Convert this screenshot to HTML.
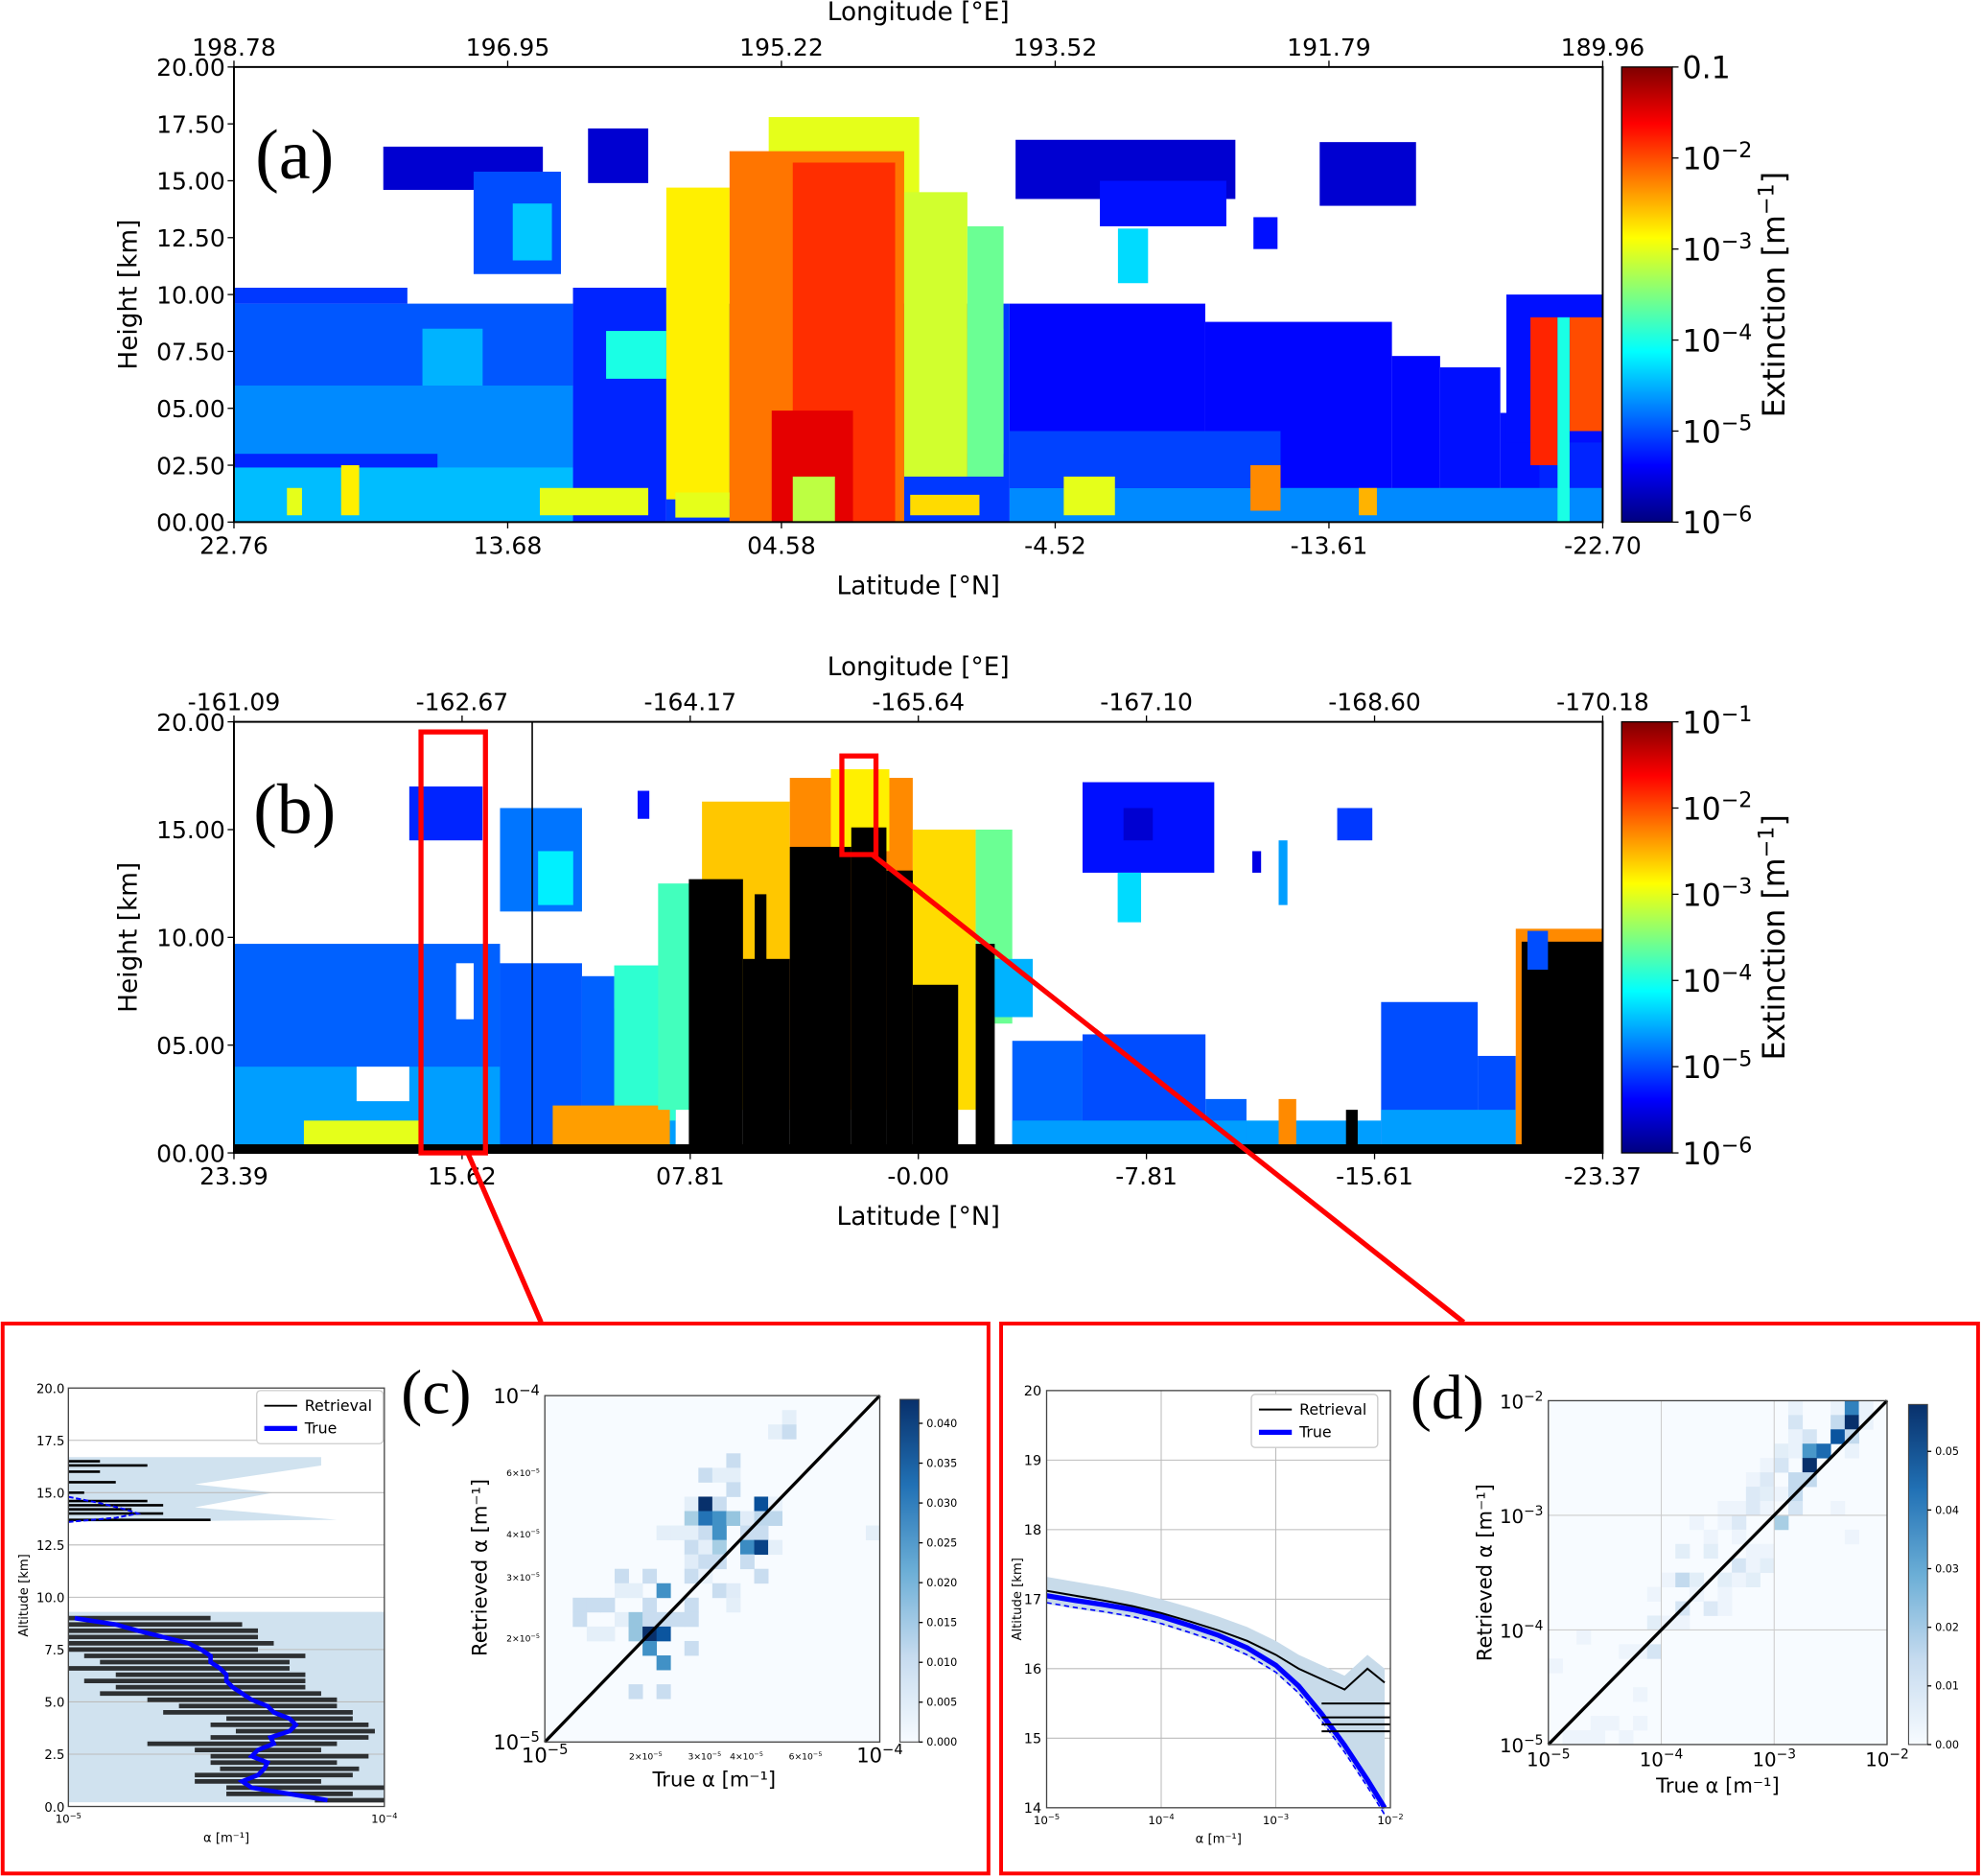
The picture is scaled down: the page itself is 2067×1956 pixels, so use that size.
<!DOCTYPE html>
<html><head><meta charset="utf-8"><style>
html,body{margin:0;padding:0;background:#fff}
svg{display:block}
text{font-family:"DejaVu Sans","Liberation Sans",sans-serif;fill:#000}
.serif{font-family:"Liberation Serif","DejaVu Serif",serif}
</style></head><body>
<svg id="fig" width="2067" height="1956" viewBox="0 0 1568 1484" xmlns="http://www.w3.org/2000/svg">
<defs>
<linearGradient id="jetg" x1="0" y1="1" x2="0" y2="0">
<stop offset="0" stop-color="#00007f"/><stop offset="0.125" stop-color="#0000ff"/><stop offset="0.375" stop-color="#00ffff"/><stop offset="0.5" stop-color="#7fff7f"/><stop offset="0.625" stop-color="#ffff00"/><stop offset="0.875" stop-color="#ff0000"/><stop offset="1" stop-color="#7f0000"/>
</linearGradient>
<linearGradient id="bluesg" x1="0" y1="1" x2="0" y2="0">
<stop offset="0" stop-color="#f7fbff"/><stop offset="0.25" stop-color="#c6dbef"/><stop offset="0.5" stop-color="#6baed6"/><stop offset="0.75" stop-color="#2171b5"/><stop offset="1" stop-color="#08306b"/>
</linearGradient>
</defs>
<g id="layer-a"></g>
<g id="layer-b"></g>
<g id="layer-c"></g>
<g id="layer-d"></g>
</svg>
<script>
// ---------- data ----------
const latTicksA=["22.76","13.68","04.58","-4.52","-13.61","-22.70"];
const lonTicksA=["198.78","196.95","195.22","193.52","191.79","189.96"];
const latTicksB=["23.39","15.62","07.81","-0.00","-7.81","-15.61","-23.37"];
const lonTicksB=["-161.09","-162.67","-164.17","-165.64","-167.10","-168.60","-170.18"];
const hTicksA=["00.00","02.50","05.00","07.50","10.00","12.50","15.00","17.50","20.00"];
const hTicksB=["00.00","05.00","10.00","15.00","20.00"];
// cloud regions: [lat0, lat1, h0 km, h1 km, log10 extinction] (null = attenuated/black, "w" = clear)
const cloudA=[
[22.76,11.5,0,9.6,-4.95],[22.76,17,9.6,10.3,-5.1],[22.76,11.5,0,6,-4.7],[22.76,11.5,0,2.4,-4.45],[22.76,16,2.4,3,-5.2],[16.5,14.5,6,8.5,-4.5],
[11.5,8.4,0,10.3,-5.2],[8.4,-3,0,9.6,-5.1],[-3,-9.5,0,9.6,-5.35],[-9.5,-15.7,0,8.8,-5.35],[-15.7,-17.3,0,7.3,-5.35],[-17.3,-19.3,0,6.8,-5.3],
[-19.3,-20.6,0,4.8,-5.3],[-20.6,-22.7,0,4.8,-5.2],[-3,-22.7,0,1.5,-4.7],[-3,-12,1.5,4,-5.05],
[-19.5,-22.7,3.5,10,-5.3],[-20.3,-21.2,2.5,9,-1.8],[-21.6,-22.7,4,9,-2.0],[-21.2,-21.6,0,9,-4.0],
[10.4,8.4,6.3,8.4,-4.0],[-1.6,-2.8,3,8.5,-3.9],
[8.4,6.3,1,14.7,-2.8],[5,0,13,17.8,-3.0],[6.3,0.5,0,16.3,-2.2],[4.2,0.8,0,15.8,-1.85],[0.5,-1.6,2,14.5,-3.1],[-1.6,-2.8,2,13,-3.6],
[4.9,2.2,0,4.9,-1.5],[4.2,2.8,0,2,-3.2],
[17.8,12.5,14.6,16.5,-5.6],[14.8,11.9,10.9,15.4,-5.0],[13.5,12.2,11.5,14,-4.4],[11,9,14.9,17.3,-5.6],
[-3.2,-10.5,14.2,16.8,-5.6],[-6,-10.2,13,15,-5.3],[-6.6,-7.6,10.5,12.9,-4.3],[-11.1,-11.9,12,13.4,-5.3],[-13.3,-16.5,13.9,16.7,-5.6],
[12.6,9.0,0.3,1.5,-3.0],[8.1,6.3,0.2,1.3,-3.0],[0.3,-2.0,0.3,1.2,-2.7],[-4.8,-6.5,0.3,2,-3.0],[-11,-12,0.5,2.5,-2.3],[-14.6,-15.2,0.3,1.5,-2.5],[19.2,18.6,0.3,2.5,-2.8],[21,20.5,0.3,1.5,-3]
];
const cloudB=[
[23.39,14.3,0,9.7,-4.9],[23.39,14.3,0,4,-4.6],[14.3,11.5,0,8.8,-4.95],[11.5,10.4,0,8.2,-4.9],[10.4,8.3,0,6.7,-4.6],
[19.2,17.4,2.4,4,"w"],[15.8,15.2,6.2,8.8,"w"],
[10.4,8.3,1.5,8.7,-3.9],[12.5,8.5,0.3,2.2,-2.4],[21,17,0.3,1.5,-3.0],
[8.9,7.4,2,12.5,-3.8],[7.4,4.4,2,16.3,-2.6],[4.4,0.2,2,17.4,-2.3],[3,1,14,17.8,-2.8],[0.2,-1.95,2,15,-2.7],[-1.95,-3.2,6,15,-3.6],
[7.85,6.0,0,12.7,null],[6,4.4,0,9,null],[5.6,5.2,0,12,null],[4.4,2.3,0,14.2,null],[2.3,1.1,0,15.1,null],[1.1,0.2,0,13.1,null],[0.2,-1.35,0,7.8,null],[-1.95,-2.6,0,9.7,null],
[17.4,14.9,14.5,17,-5.2],[14.3,11.5,11.2,16,-4.8],[13,11.8,11.5,14,-4.2],[9.6,9.2,15.5,16.8,-5.3],
[-5.6,-10.1,13,17.2,-5.3],[-7.0,-8.0,14.5,16,-5.6],[-6.8,-7.6,10.7,13,-4.3],[-11.4,-11.7,13,14,-5.5],[-12.3,-12.6,11.5,14.5,-4.6],[-14.3,-15.5,14.5,16,-5.1],
[-2.6,-3.9,6.3,9,-4.5],[-3.2,-5.6,0,5.2,-4.9],[-5.6,-9.8,0,5.5,-5.0],[-9.8,-11.2,0,2.5,-4.9],[-3.2,-11.2,0,1.5,-4.6],
[-11.2,-15.8,0,1.5,-4.6],[-12.3,-12.9,0,2.5,-2.3],[-14.6,-15.0,0,2,null],
[-15.8,-19.1,0,7,-5.0],[-19.1,-20.4,0,4.5,-5.0],[-15.8,-20.4,0,2,-4.6],
[-20.4,-23.37,0,10.4,-2.3],[-20.6,-23.37,0,9.8,null],[-20.8,-21.5,8.5,10.3,-5.0],
[23.39,-23.37,0,0.4,null]
];
// panel c profile
const cAlt=[0.3,0.6,0.9,1.2,1.5,1.8,2.1,2.4,2.7,3.0,3.3,3.6,3.9,4.2,4.5,4.8,5.1,5.4,5.7,6.0,6.3,6.6,6.9,7.2,7.5,7.8,8.1,8.4,8.7,9.0];
const cRet=[-4.1,-4.3,-4.25,-4.4,-4.35,-4.3,-4.35,-4.3,-4.4,-4.45,-4.3,-4.25,-4.3,-4.3,-4.4,-4.4,-4.45,-4.55,-4.55,-4.6,-4.55,-4.65,-4.6,-4.6,-4.7,-4.7,-4.7,-4.75,-4.75,-4.85];
const cErr=[0.12,0.2,0.25,0.2,0.25,0.22,0.2,0.25,0.2,0.3,0.25,0.22,0.25,0.2,0.3,0.25,0.3,0.35,0.3,0.35,0.3,0.35,0.3,0.35,0.3,0.35,0.3,0.35,0.3,0.3];
const cTrue=[-4.18,-4.3,-4.42,-4.45,-4.4,-4.38,-4.37,-4.42,-4.4,-4.35,-4.36,-4.3,-4.28,-4.3,-4.35,-4.37,-4.42,-4.45,-4.48,-4.5,-4.5,-4.52,-4.55,-4.55,-4.58,-4.62,-4.7,-4.78,-4.85,-4.98];
const cAltUp=[13.7,14.0,14.2,14.4,14.6,15.0,15.5,16.0,16.3,16.5];
const cRetUp=[-4.55,-4.7,-4.8,-4.7,-4.75,-4.95,-4.85,-4.9,-4.75,-4.9];
const cTrueUp=[-5.0,-4.85,-4.78,-4.82,-4.9,-5.0];
const cAltTrueUp=[13.6,13.8,14.0,14.2,14.5,14.8];
// panel c histogram: bin indices (24x24 over 1e-5..1e-4) and density
const cBx=[17,16,17,13,11,12,13,13,10,11,12,15,16,10,11,12,13,14,15,16,8,9,10,11,12,14,15,23,10,11,12,14,15,16,10,11,12,14,5,7,10,11,15,5,6,8,12,13,2,3,4,7,10,13,2,5,6,7,8,9,10,3,4,6,7,8,7,10,8,6,8];
const cBy=[22,21,21,19,18,18,18,17,16,16,16,16,16,15,15,15,15,15,15,15,14,14,14,14,14,14,14,14,13,13,13,13,13,13,12,12,12,12,11,11,11,11,11,10,10,10,10,10,9,9,9,9,9,9,8,8,8,8,8,8,8,7,7,7,7,7,6,6,5,3,3];
const cBv=[.004,.004,.01,.01,.01,.004,.004,.01,.004,.043,.01,.038,.003,.015,.032,.027,.017,.005,.012,.012,.004,.004,.004,.01,.027,.01,.01,.004,.01,.004,.015,.028,.04,.004,.005,.01,.01,.01,.01,.01,.01,.003,.01,.004,.004,.027,.01,.005,.01,.01,.01,.01,.01,.004,.01,.004,.017,.01,.01,.01,.01,.004,.004,.017,.043,.037,.027,.01,.027,.01,.01];
// panel d profile
const dLog=[-5,-4.75,-4.5,-4.25,-4,-3.75,-3.5,-3.25,-3,-2.8,-2.6,-2.4,-2.2,-2.05];
const dTrue=[17.05,16.98,16.92,16.85,16.75,16.62,16.48,16.3,16.05,15.75,15.35,14.9,14.4,14.0];
const dRet=[17.12,17.05,16.98,16.9,16.8,16.68,16.55,16.4,16.2,16.0,15.85,15.7,16.0,15.8];
// panel d histogram: 24x24 bins over 1e-5..1e-2
const dBx=[17,20,21,22,17,20,21,22,17,18,20,21,16,17,18,19,21,15,16,18,14,15,17,18,14,15,16,17,12,13,14,15,17,20,10,12,13,16,11,13,21,9,11,14,15,13,14,15,8,9,10,12,13,14,7,10,12,9,11,12,7,8,9,2,5,6,7,0,6,3,4,6,1,2,3,5];
const dBy=[23,23,23,23,22,22,22,22,21,21,21,21,20,20,20,20,20,19,19,19,18,18,18,18,17,17,17,17,16,16,16,16,16,16,15,15,15,15,14,14,14,13,13,13,13,12,12,12,11,11,11,11,11,11,10,10,10,9,9,9,8,8,8,7,6,6,6,5,3,1,1,1,0,0,0,0];
const dBv=[.004,.004,.04,.004,.01,.015,.058,.004,.004,.01,.05,.015,.006,.004,.035,.045,.004,.003,.01,.058,.003,.008,.015,.015,.008,.006,.003,.015,.003,.003,.008,.003,.01,.003,.003,.003,.008,.02,.003,.003,.003,.006,.006,.003,.003,.01,.003,.006,.003,.015,.006,.006,.003,.006,.003,.003,.003,.01,.008,.003,.006,.003,.003,.003,.003,.003,.01,.003,.003,.003,.003,.003,.003,.003,.003,.003];

// ---------- helpers ----------
const NS='http://www.w3.org/2000/svg';
function mk(tag,attrs,parent){const e=document.createElementNS(NS,tag);for(const k in attrs)e.setAttribute(k,attrs[k]);parent.appendChild(e);return e;}
function txt(parent,x,y,s,size,anchor,extra){const t=mk('text',Object.assign({x:x,y:y,'font-size':size,'text-anchor':anchor||'middle'},extra||{}),parent);t.textContent=s;return t;}
function cl(v){return Math.max(0,Math.min(1,v));}
function jet(t){const r=cl(1.5-Math.abs(4*t-3)),g=cl(1.5-Math.abs(4*t-2)),b=cl(1.5-Math.abs(4*t-1));return 'rgb('+Math.round(r*255)+','+Math.round(g*255)+','+Math.round(b*255)+')';}
function extColor(v){if(v===null)return '#000';if(v==='w')return '#fff';return jet((v+6)/5);}
const bl=[[247,251,255],[222,235,247],[198,219,239],[158,202,225],[107,174,214],[66,146,198],[33,113,181],[8,81,156],[8,48,107]];
function blues(t){t=cl(t)*8;const i=Math.min(7,Math.floor(t)),f=t-i;const c=bl[i].map((v,k)=>Math.round(v+(bl[i+1][k]-v)*f));return 'rgb('+c.join(',')+')';}
function sup(parent,x,y,base,exp,size,anchor,extra){const t=mk('text',Object.assign({x:x,y:y,'font-size':size,'text-anchor':anchor||'middle'},extra||{}),parent);const a=mk('tspan',{},t);a.textContent=base;const b=mk('tspan',{dy:-size*0.4,'font-size':size*0.7},t);b.textContent=exp;return t;}

// ---------- panels a & b ----------
function curtain(g,cfg){
  const {x0,x1,y0,y1,latL,latR,clouds,latT,lonT,hT,label,cbTicks,key}=cfg;
  const X=lat=>x0+(latL-lat)/(latL-latR)*(x1-x0);
  const Y=h=>y1-h/20*(y1-y0);
  const plot=mk('g',{},g);
  
  
  clouds.forEach(c=>{
    const r=mk('rect',{x:X(c[0]),y:Y(c[3]),width:Math.max(1,X(c[1])-X(c[0])),height:Y(c[2])-Y(c[3]),fill:extColor(c[4])},plot);
    
    
  });
  const fr=mk('rect',{x:x0,y:y0,width:x1-x0,height:y1-y0,fill:'none',stroke:'#000','stroke-width':1.5},g);
  
  
  latT.forEach((s,i)=>{const x=x0+i*(x1-x0)/(latT.length-1);
    mk('line',{x1:x,x2:x,y1:y1,y2:y1+5,stroke:'#000'},g);
    const t=txt(g,x,y1+25,s,19);});
  lonT.forEach((s,i)=>{const x=x0+i*(x1-x0)/(lonT.length-1);
    mk('line',{x1:x,x2:x,y1:y0,y2:y0-5,stroke:'#000'},g);
    const t=txt(g,x,y0-9,s,19);});
  hT.forEach((s,i)=>{const y=y1-i*(y1-y0)/(hT.length-1);
    mk('line',{x1:x0,x2:x0-5,y1:y,y2:y,stroke:'#000'},g);
    const t=txt(g,x0-7,y+7,s,19,'end');});
  let t=txt(g,(x0+x1)/2,y1+57,'Latitude  [°N]',20);
  t=txt(g,(x0+x1)/2,y0-37,'Longitude  [°E]',20);
  t=txt(g,0,0,'Height [km]',20,'middle',{transform:'translate(108,'+(y0+y1)/2+') rotate(-90)'});
  t=txt(g,x0+48,y0+88,label,56,'middle',{class:'serif'});
  const cb=mk('rect',{x:1283,y:y0,width:40,height:y1-y0,fill:'url(#jetg)',stroke:'#000','stroke-width':1},g);
  
  cbTicks.forEach((s,i)=>{const y=y0+i*(y1-y0)/(cbTicks.length-1);
    mk('line',{x1:1323,x2:1328,y1:y,y2:y,stroke:'#000'},g);
    let e;
    if(s.indexOf('^')<0) e=txt(g,1331,y+9,s,24,'start');
    else {const p=s.split('^');e=sup(g,1331,y+9,p[0],p[1],24,'start');}
    });
  t=mk('text',{x:0,y:0,'font-size':24,'text-anchor':'middle',transform:'translate(1412,'+(y0+y1)/2+') rotate(-90)'},g);
  t.textContent='Extinction [m'; const ts=mk('tspan',{dy:-9,'font-size':17},t); ts.textContent='−1'; const ts2=mk('tspan',{dy:9},t); ts2.textContent=']';
  
}
curtain(document.getElementById('layer-a'),{key:'a',x0:185,x1:1268,y0:53,y1:413,latL:22.76,latR:-22.70,clouds:cloudA,latT:latTicksA,lonT:lonTicksA,hT:hTicksA,label:'(a)',cbTicks:['0.1','10^−2','10^−3','10^−4','10^−5','10^−6']});
curtain(document.getElementById('layer-b'),{key:'b',x0:185,x1:1268,y0:571,y1:912,latL:23.39,latR:-23.37,clouds:cloudB,latT:latTicksB,lonT:lonTicksB,hT:hTicksB,label:'(b)',cbTicks:['10^−1','10^−2','10^−3','10^−4','10^−5','10^−6']});
(function(){const g=document.getElementById('layer-b');
  let e=mk('line',{x1:421,x2:421,y1:571,y2:912,stroke:'#000','stroke-width':1.2},g);
  e=mk('rect',{x:333,y:579,width:51,height:333,fill:'none',stroke:'#f00','stroke-width':4},g);
  e=mk('rect',{x:666,y:598,width:27,height:78,fill:'none',stroke:'#f00','stroke-width':4},g);
  e=mk('line',{x1:370,y1:912,x2:428,y2:1046,stroke:'#f00','stroke-width':4},g);
  e=mk('line',{x1:690,y1:676,x2:1158,y2:1046,stroke:'#f00','stroke-width':4},g);
})();

// ---------- histogram & legend helpers ----------
function scatter(g,key,x0,x1,y0,y1,lmin,lmax,bx,by,bv,vmax,cbx,cbT,nb){
  const bg=mk('rect',{x:x0,y:y0,width:x1-x0,height:y1-y0,fill:'#f7fbff'},g);
  
  const cw=(x1-x0)/nb,ch=(y1-y0)/nb;
  bx.forEach((b,i)=>{const r=mk('rect',{x:x0+b*cw,y:y1-(by[i]+1)*ch,width:cw+0.3,height:ch+0.3,fill:blues(bv[i]/vmax)},g);
    });
  const cb=mk('rect',{x:cbx,y:y0+3,width:15,height:y1-y0-3,fill:'url(#bluesg)',stroke:'#444','stroke-width':0.8},g);
  cbT.forEach(s=>{const y=y1-parseFloat(s)/vmax*(y1-y0-3);mk('line',{x1:cbx+15,x2:cbx+18,y1:y,y2:y,stroke:'#000'},g);
    const t=txt(g,cbx+21,y+3,s,8.5,'start');});
  return {X:l=>x0+(l-lmin)/(lmax-lmin)*(x1-x0),Y:l=>y1-(l-lmin)/(lmax-lmin)*(y1-y0)};
}
function finishHist(g,key,x0,x1,y0,y1){
  const d=mk('line',{x1:x0,y1:y1,x2:x1,y2:y0,stroke:'#000','stroke-width':2.5},g);
  const f=mk('rect',{x:x0,y:y0,width:x1-x0,height:y1-y0,fill:'none',stroke:'#444','stroke-width':1},g);
}
function legend(g,key,x,y){
  const b=mk('rect',{x:x,y:y,width:100,height:42,fill:'#fff',stroke:'#ccc',rx:3},g);
  mk('line',{x1:x+6,x2:x+32,y1:y+12,y2:y+12,stroke:'#000','stroke-width':1.5},g);
  let t=txt(g,x+38,y+16,'Retrieval',12,'start');
  mk('line',{x1:x+6,x2:x+32,y1:y+30,y2:y+30,stroke:'#00f','stroke-width':4},g);
  t=txt(g,x+38,y+34,'True',12,'start');
}

// ---------- panel c ----------
(function(){const g=document.getElementById('layer-c');
  let e=mk('rect',{x:2,y:1047,width:780,height:435,fill:'none',stroke:'#f00','stroke-width':3},g);
  const x0=54,x1=304,y0=1098,y1=1429;
  const X=l=>x0+Math.max(0,Math.min(1,(l+5)))*(x1-x0),Y=a=>y1-a/20*(y1-y0);
  e=mk('path',{d:'M'+x0+','+Y(0.2)+' L'+x1+','+Y(0.2)+' L'+x1+','+Y(9.3)+' L'+x0+','+Y(9.3)+' Z',fill:'#d0e2ef'},g);
  e=mk('path',{d:'M'+x0+','+Y(13.6)+' L'+X(-4.15)+','+Y(13.7)+' L'+X(-4.6)+','+Y(14.3)+' L'+X(-4.35)+','+Y(15)+' L'+X(-4.6)+','+Y(15.4)+' L'+X(-4.2)+','+Y(16.3)+' L'+X(-4.2)+','+Y(16.7)+' L'+x0+','+Y(16.7)+' Z',fill:'#d0e2ef'},g);
  [2.5,5,7.5,10,12.5,15,17.5].forEach(a=>mk('line',{x1:x0,x2:x1,y1:Y(a),y2:Y(a),stroke:'#bbb','stroke-width':0.8},g));
  cAlt.forEach((a,i)=>{const l=mk('line',{x1:X(cRet[i]-cErr[i]),x2:X(cRet[i]+cErr[i]),y1:Y(a),y2:Y(a),stroke:'#111','stroke-width':3.6,'stroke-opacity':0.85},g);});
  cAltUp.forEach((a,i)=>{const l=mk('line',{x1:x0,x2:X(cRetUp[i]),y1:Y(a),y2:Y(a),stroke:'#000','stroke-width':2},g);});
  e=mk('polyline',{points:cAlt.map((a,i)=>X(cTrue[i])+','+Y(a)).join(' '),fill:'none',stroke:'#00f','stroke-width':3.5},g);
  e=mk('polyline',{points:cAltTrueUp.map((a,i)=>X(cTrueUp[i])+','+Y(a)).join(' '),fill:'none',stroke:'#00f','stroke-width':1.5,'stroke-dasharray':'4,2'},g);
  e=mk('rect',{x:x0,y:y0,width:x1-x0,height:y1-y0,fill:'none',stroke:'#444','stroke-width':1},g);
  ['0.0','2.5','5.0','7.5','10.0','12.5','15.0','17.5','20.0'].forEach((s,i)=>{const t=txt(g,x0-3,Y(i*2.5)+4,s,10,'end');});
  e=sup(g,x0,y1+13,'10','−5',9);
  e=sup(g,x1,y1+13,'10','−4',9);
  e=txt(g,179,y1+28,'α [m⁻¹]',10);
  e=txt(g,0,0,'Altitude [km]',10,'middle',{transform:'translate(22,1262) rotate(-90)'});
  legend(g,'c',203,1100);
  const hx0=431,hx1=696,hy0=1104,hy1=1378;
  scatter(g,'c',hx0,hx1,hy0,hy1,-5,-4,cBx,cBy,cBv,0.043,712,['0.000','0.005','0.010','0.015','0.020','0.025','0.030','0.035','0.040'],24);
  finishHist(g,'c',hx0,hx1,hy0,hy1);
  e=sup(g,hx0,1394,'10','−5',16);
  e=sup(g,hx1,1394,'10','−4',16);
  e=sup(g,427,1384,'10','−5',16,'end');
  e=sup(g,427,1110,'10','−4',16,'end');
  [[2,'2'],[3,'3'],[4,'4'],[6,'6']].forEach(m=>{const lx=hx0+Math.log10(m[0])*(hx1-hx0), ly=hy1-Math.log10(m[0])*(hy1-hy0);
    let t=sup(g,lx,1392,m[1]+'×10','−5',7);
    t=sup(g,427,ly+3,m[1]+'×10','−5',7,'end');});
  e=txt(g,565,1413,'True α [m⁻¹]',16);
  e=txt(g,0,0,'Retrieved α [m⁻¹]',16,'middle',{transform:'translate(385,1240) rotate(-90)'});
  e=txt(g,345,1118,'(c)',50,'middle',{class:'serif'});
})();

// ---------- panel d ----------
(function(){const g=document.getElementById('layer-d');
  let e=mk('rect',{x:792,y:1047,width:773,height:435,fill:'none',stroke:'#f00','stroke-width':3},g);
  const x0=828,x1=1100,y0=1100,y1=1430;
  const X=l=>x0+(l+5)/3*(x1-x0),Y=a=>y1-(a-14)/6*(y1-y0);
  [-4,-3].forEach(l=>mk('line',{x1:X(l),x2:X(l),y1:y0,y2:y1,stroke:'#bbb','stroke-width':0.8},g));
  [15,16,17,18,19].forEach(a=>mk('line',{x1:x0,x2:x1,y1:Y(a),y2:Y(a),stroke:'#bbb','stroke-width':0.8},g));
  const up=dLog.map((l,i)=>X(l)+','+Y(Math.max(dTrue[i],dRet[i])+0.2)), lo=dLog.map((l,i)=>X(l)+','+Y(Math.min(dTrue[i],dRet[i])-0.12)).reverse();
  e=mk('polygon',{points:up.concat(lo).join(' '),fill:'#c8dbea'},g);
  e=mk('polyline',{points:dLog.map((l,i)=>X(l)+','+Y(dTrue[i]-0.1)).join(' '),fill:'none',stroke:'#00f','stroke-width':1.2,'stroke-dasharray':'4,3'},g);
  e=mk('polyline',{points:dLog.map((l,i)=>X(l)+','+Y(dTrue[i])).join(' '),fill:'none',stroke:'#00f','stroke-width':4},g);
  e=mk('polyline',{points:dLog.map((l,i)=>X(l)+','+Y(dRet[i])).join(' '),fill:'none',stroke:'#000','stroke-width':1.5},g);
  [15.1,15.2,15.3,15.5].forEach(a=>mk('line',{x1:X(-2.6),x2:x1,y1:Y(a),y2:Y(a),stroke:'#000','stroke-width':1.5},g));
  e=mk('rect',{x:x0,y:y0,width:x1-x0,height:y1-y0,fill:'none',stroke:'#444','stroke-width':1},g);
  ['14','15','16','17','18','19','20'].forEach((s,i)=>{const t=txt(g,x0-4,Y(14+i)+4,s,11,'end');});
  ['−5','−4','−3','−2'].forEach((s,i)=>{const t=sup(g,X(-5+i),y1+13,'10',s,9);});
  e=txt(g,964,y1+28,'α [m⁻¹]',10);
  e=txt(g,0,0,'Altitude [km]',10,'middle',{transform:'translate(808,1265) rotate(-90)'});
  legend(g,'d',990,1103);
  const hx0=1225,hx1=1493,hy0=1108,hy1=1380;
  const s=scatter(g,'d',hx0,hx1,hy0,hy1,-5,-2,dBx,dBy,dBv,0.058,1510,['0.00','0.01','0.02','0.03','0.04','0.05'],24);
  [-4,-3].forEach(l=>{mk('line',{x1:s.X(l),x2:s.X(l),y1:hy0,y2:hy1,stroke:'#ccc','stroke-width':0.8},g);mk('line',{x1:hx0,x2:hx1,y1:s.Y(l),y2:s.Y(l),stroke:'#ccc','stroke-width':0.8},g);});
  finishHist(g,'d',hx0,hx1,hy0,hy1);
  ['−5','−4','−3','−2'].forEach((t,i)=>{let e2=sup(g,s.X(-5+i),1397,'10',t,15);
    e2=sup(g,1221,s.Y(-5+i)+6,'10',t,15,'end');});
  e=txt(g,1359,1418,'True α [m⁻¹]',16);
  e=txt(g,0,0,'Retrieved α [m⁻¹]',16,'middle',{transform:'translate(1180,1244) rotate(-90)'});
  e=txt(g,1145,1122,'(d)',50,'middle',{class:'serif'});
})();
</script>
</body></html>
